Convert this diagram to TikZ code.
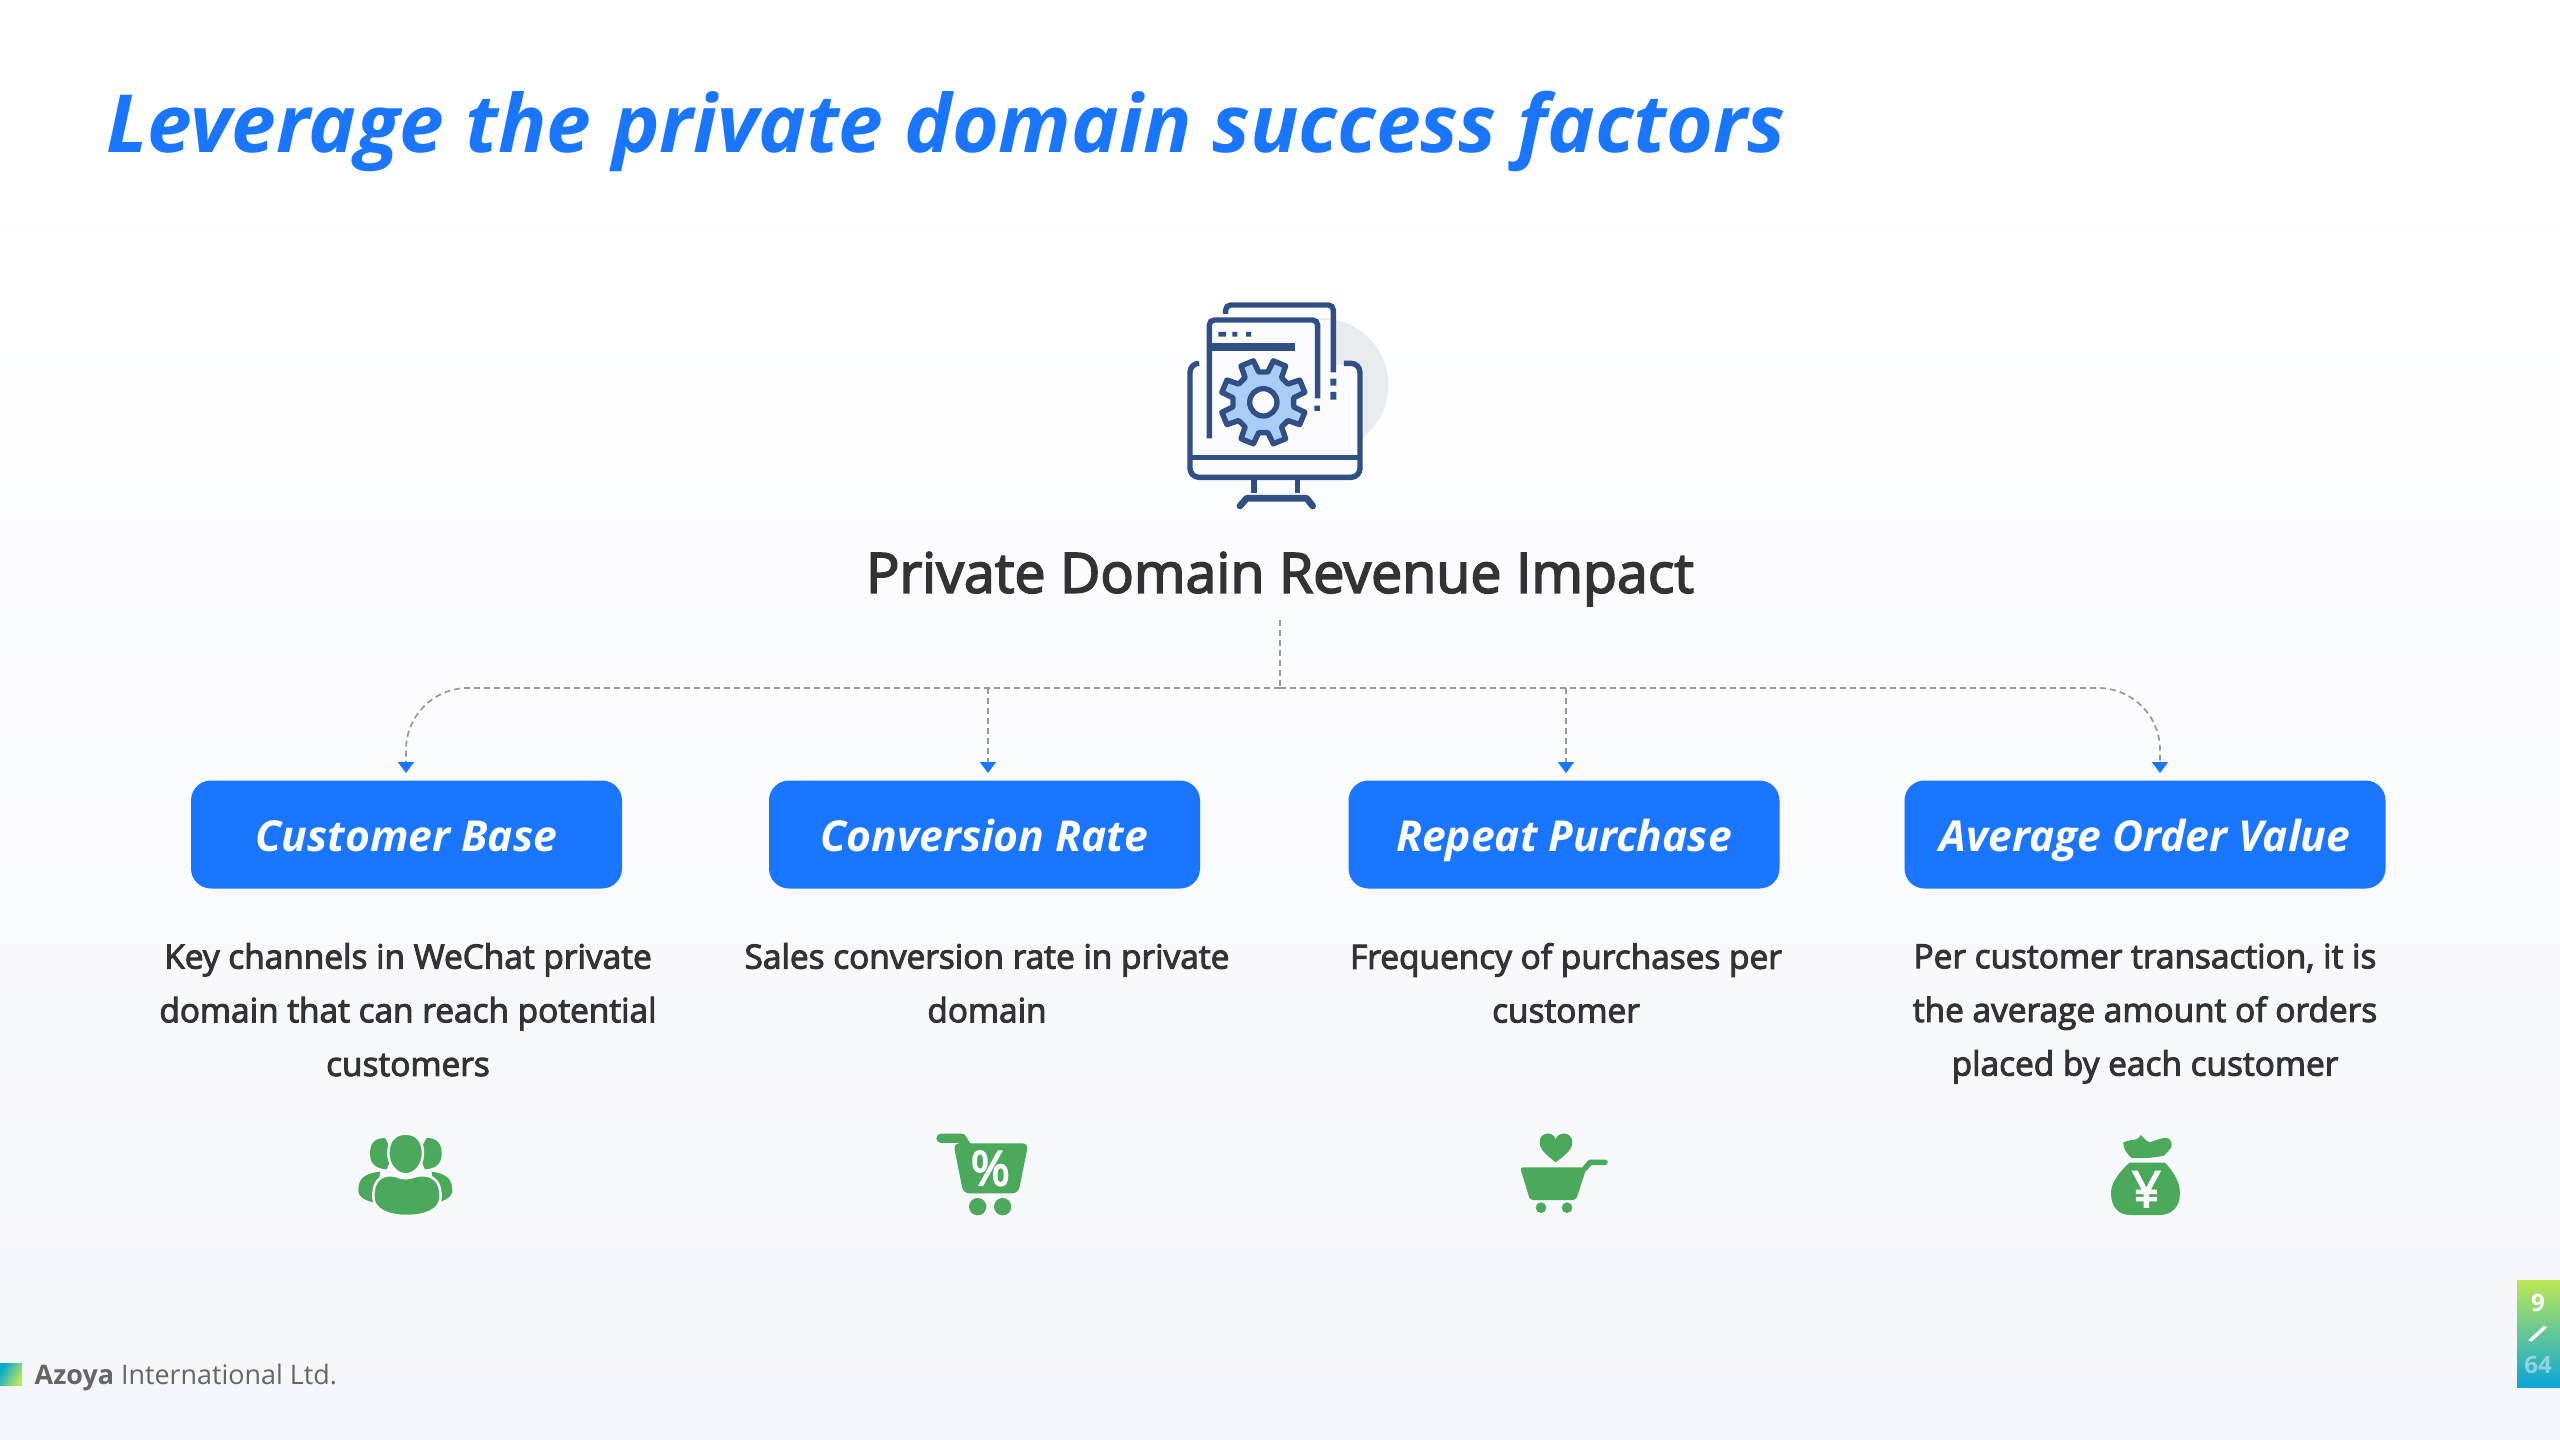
\documentclass[tikz,border=0pt]{standalone}
\usepackage{fontspec}
\setmainfont{Open Sans}
\newfontfamily\semib[FakeBold=3]{Open Sans}
\usetikzlibrary{arrows.meta,calc}
\definecolor{brand}{HTML}{1A75FF}
\definecolor{ink}{HTML}{333333}
\definecolor{leaf}{HTML}{4AA95A}
\definecolor{navy}{HTML}{2F4F85}
\definecolor{pale}{HTML}{A9CDF5}
\definecolor{halo}{HTML}{E9ECEF}
\definecolor{paper}{HTML}{FBFBFE}
\definecolor{dashgray}{HTML}{999999}
\definecolor{foot}{HTML}{666666}
\tikzset{
  pillbox/.style={fill=brand,rounded corners=20pt,minimum height=108pt,inner sep=0pt,text=white,
    text height=41pt,text depth=8pt,
    font=\fontsize{42.6}{50}\selectfont\bfseries\itshape},
  bodytext/.style={text=ink,align=center,inner sep=0pt,anchor=north,
    font=\fontsize{33.4}{53.7}\selectfont\semib},
  linkline/.style={draw=dashgray,line width=1.7pt,dash pattern=on 6pt off 4pt},
  tipped/.style={linkline,-{Triangle[length=11pt,width=16pt,color=brand,fill=brand,sep=0pt]}},
  zoomed/.style={x=0.3333pt,y=-0.3333pt},
  iconline/.style={draw=navy,line width=5.4pt},
}
\begin{document}
\begin{tikzpicture}[x=1pt,y=-1pt]
\useasboundingbox (0,0) rectangle (2560,1440);
\shade[top color=white,bottom color={rgb,255:red,245;green,246;blue,251}] (0,160) rectangle (2560,1440);
\fill[white] (0,0) rectangle (2560,160);

% title
\node[anchor=base west,inner sep=0pt,text=brand,font=\fontsize{80.2}{96}\selectfont\bfseries\itshape] (title) at (106,152.5) {Leverage the private domain success factors};
\node[anchor=center,inner sep=0pt,text=ink,font=\fontsize{55.5}{64}\selectfont\semib] (subtitle) at (1280,579) {Private Domain Revenue Impact};

% computer icon
\begin{scope}[shift={(1140,280)},zoomed]
  \fill[halo] (545,315) circle (200);
  \fill[paper] (150,255) rectangle (660,590);
  \fill[paper] (208,120) rectangle (580,260);
  \begin{scope}[iconline,line cap=butt]
    \draw[rounded corners=9pt] (177,250) -- (150,250) -- (150,592) -- (660,592) -- (660,250) -- (612,250);
    \draw (152,532) -- (658,532);
    \draw (342,595) -- (342,640);
    \draw (473,595) -- (473,640);
    \draw[line width=6.7pt,line cap=round,line join=round] (300,678) -- (320,655) -- (500,655) -- (518,678);
    \draw[rounded corners=5pt] (208,475) -- (208,120) -- (533,120) -- (533,355);
    \draw[rounded corners=5pt] (257,102) -- (257,75) -- (580,75) -- (580,277);
    \draw[line width=8pt] (215,200) -- (466,200);
  \end{scope}
  \fill[navy] (235,156) rectangle (258,170) (277,156) rectangle (292,170) (318,156) rectangle (333,170);
  \fill[navy] (523,377) rectangle (540,393) (571,296) rectangle (589,317) (571,336) rectangle (589,359);
  \draw[iconline,fill=pale,line join=round] ($(370,367)+(8.5:92)$)
    \foreach \a in {0,45,...,315}{
      -- ($(370,367)+(\a+8.5:92)$) -- ($(370,367)+(\a+13.5:128)$) -- ($(370,367)+(\a+31.5:128)$) -- ($(370,367)+(\a+36.5:92)$)
    } -- cycle;
  \draw[navy,line width=5.3pt,fill=paper] (370,367) circle (41);
\end{scope}

% connectors
\coordinate (stem) at (1280,620);
\coordinate (hub) at (1280,688);
\coordinate (branchb) at (988,688);
\coordinate (branchc) at (1566,688);
\coordinate (dropa) at (406,773);
\coordinate (dropb) at (988,773);
\coordinate (dropc) at (1566,773);
\coordinate (dropd) at (2160,773);
\draw[linkline] (stem) -- (hub);
\draw[tipped,rounded corners=62pt] (hub) -| (dropa);
\draw[tipped,rounded corners=62pt] (hub) -| (dropd);
\draw[tipped] (branchb) -- (dropb);
\draw[tipped] (branchc) -- (dropc);

% boxes
\node[pillbox,minimum width=431pt] (boxa) at (406.5,834.5) {Customer Base};
\node[pillbox,minimum width=431pt] (boxb) at (984.5,834.5) {Conversion Rate};
\node[pillbox,minimum width=431pt] (boxc) at (1564,834.5) {Repeat Purchase};
\node[pillbox,minimum width=481pt] (boxd) at (2145,834.5) {Average Order Value};

% descriptions
\node[bodytext] (texta) at (408,943) {Key channels in WeChat private\\domain that can reach potential\\customers};
\node[bodytext] (textb) at (987,943) {Sales conversion rate in private\\domain};
\node[bodytext] (textc) at (1566,943) {Frequency of purchases per\\customer};
\node[bodytext] (textd) at (2145,943.5) {Per customer transaction, it is\\the average amount of orders\\placed by each customer};

% people icon
\begin{scope}[shift={(330,1110)},zoomed]
  \fill[leaf] (165,84) .. controls (130,84) and (120,105) .. (120,130) .. controls (120,155) and (130,175) .. (170,178) -- (190,130) -- cycle;
  \fill[leaf] (290,84) .. controls (325,84) and (335,105) .. (335,130) .. controls (335,155) and (325,175) .. (285,178) -- (265,130) -- cycle;
  \fill[leaf] (150,185) .. controls (105,190) and (85,205) .. (85,240) .. controls (85,262) and (105,272) .. (140,280) -- (150,185) -- cycle;
  \fill[leaf] (305,185) .. controls (345,190) and (367,205) .. (367,240) .. controls (367,262) and (345,272) .. (315,280) -- (305,185) -- cycle;
  \filldraw[fill=leaf,draw=paper,line width=2.5pt] (227,71) .. controls (262,71) and (279,95) .. (279,130) .. controls (279,165) and (255,193) .. (227,193) .. controls (199,193) and (175,165) .. (175,130) .. controls (175,95) and (192,71) .. (227,71) -- cycle;
  \filldraw[fill=leaf,draw=paper,line width=2.5pt] (165,198) .. controls (195,190) and (205,205) .. (227,205) .. controls (250,205) and (260,190) .. (295,198) .. controls (320,206) and (332,225) .. (332,260) .. controls (332,300) and (285,318) .. (230,318) .. controls (175,318) and (130,300) .. (130,260) .. controls (130,225) and (140,206) .. (165,198) -- cycle;
\end{scope}

% percent cart icon
\begin{scope}[shift={(910,1110)},zoomed]
  \draw[leaf,line width=9.3pt,line cap=round,line join=round] (93,85) -- (155,85) -- (170,110);
  \fill[leaf,rounded corners=6pt] (130,100) -- (355,100) -- (325,250) -- (160,250) -- cycle;
  \fill[leaf] (203,290) circle (26) (278,290) circle (26);
  \node[text=white,inner sep=0pt,font=\fontsize{48}{50}\selectfont\semib] (percent) at (241,175) {\%};
\end{scope}

% heart cart icon
\begin{scope}[shift={(1490,1110)},zoomed]
  \fill[leaf] (197,157) .. controls (170,135) and (149,120) .. (149,97) .. controls (149,65) and (190,62) .. (197,88) .. controls (205,62) and (247,65) .. (247,97) .. controls (247,120) and (225,135) .. (197,157) -- cycle;
  \fill[leaf,rounded corners=3pt] (90,172) -- (290,172) -- (258,270) -- (120,270) -- cycle;
  \draw[leaf,line width=5.5pt,line cap=round,line join=round] (285,175) -- (300,157) -- (345,157);
  \fill[leaf] (153,293) circle (16) (231,293) circle (16);
\end{scope}

% money bag icon
\begin{scope}[shift={(2070,1110)},zoomed]
  \fill[leaf] (160,97) .. controls (180,88) and (195,92) .. (205,85) -- (212,75) .. controls (222,85) and (230,95) .. (240,97) .. controls (260,90) and (280,80) .. (295,85) .. controls (307,95) and (307,105) .. (302,115) -- (282,137) .. controls (250,144) and (210,146) .. (185,144) .. controls (170,130) and (158,115) .. (160,97) -- cycle;
  \fill[leaf] (178,158) -- (285,158) .. controls (310,185) and (330,215) .. (330,250) .. controls (330,290) and (305,315) .. (270,315) -- (180,315) .. controls (145,315) and (123,290) .. (123,250) .. controls (123,215) and (150,185) .. (178,158) -- cycle;
  \node[text=white,inner sep=0pt,font=\fontsize{50}{54}\selectfont\semib] (yen) at (229,238) {¥};
\end{scope}

% footer
\shade[left color={rgb,255:red,5;green,170;blue,205},right color={rgb,255:red,190;green,232;blue,90},shading angle=60] (0,1363) rectangle (22,1385);
\node[anchor=base west,inner sep=0pt,text=foot,font=\fontsize{26.9}{34}\selectfont] (footer) at (34.5,1384) {\textbf{Azoya} International Ltd.};

% page tab
\shade[top color={rgb,255:red,190;green,232;blue,85},middle color={rgb,255:red,10;green,212;blue,170},bottom color={rgb,255:red,10;green,165;blue,215}] (2517,1280) rectangle (2560,1387);
\node[text=white,inner sep=0pt,font=\fontsize{24}{28}\selectfont\bfseries] (pagenum) at (2538,1303) {9};
\node[text=white,inner sep=0pt,rotate=-27,font=\fontsize{28}{34}\selectfont\bfseries] (pageslash) at (2538,1334) {/};
\node[text=white,opacity=.45,inner sep=0pt,font=\fontsize{24}{28}\selectfont\bfseries] (pagetotal) at (2538,1365) {64};
\end{tikzpicture}
\end{document}
